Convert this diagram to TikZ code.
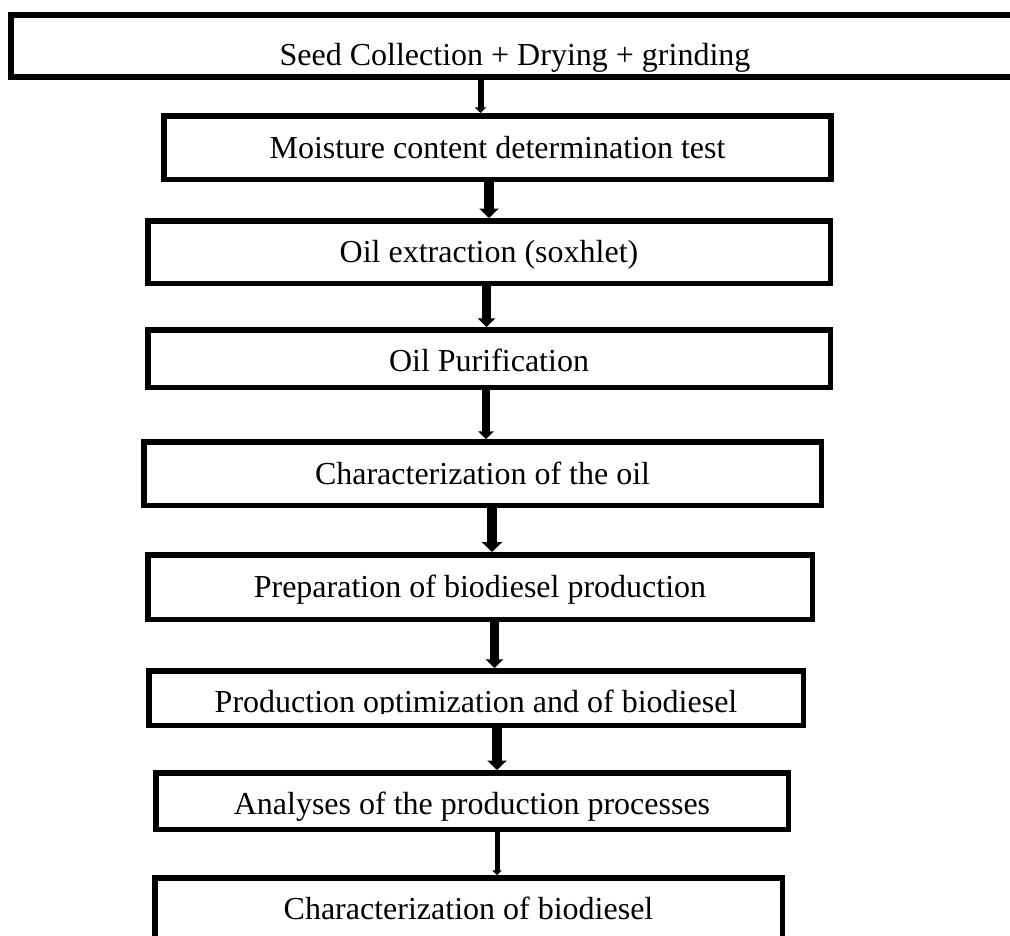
\documentclass[tikz,border=0pt]{standalone}
\usepackage{fontspec}
\setmainfont{Liberation Serif}
\usetikzlibrary{arrows.meta}

\begin{document}
\begin{tikzpicture}[x=1pt,y=-1pt,
    stage/.style={draw,line width=5.5pt,inner sep=0pt,text height=21pt,text depth=0pt,
      font=\fontsize{32}{38}\selectfont},
    flow/.style={-{Triangle[width=0pt 1.9,length=0pt 0.95]}}]
  \useasboundingbox (0,0) rectangle (1010,935);
  \node[stage,minimum width=1008pt,minimum height=62pt,text height=39pt] (b1) at (515,46) {Seed Collection + Drying + grinding};
  \node[stage,minimum width=667pt,minimum height=63.5pt] (b2) at (497.5,147.5) {Moisture content determination test};
  \node[stage,minimum width=682.5pt,minimum height=62.5pt] (b3) at (489,252) {Oil extraction (soxhlet)};
  \node[stage,minimum width=682.5pt,minimum height=57.5pt,text height=26pt] (b4) at (489,358.5) {Oil Purification};
  \node[stage,minimum width=677.5pt,minimum height=63.5pt] (b5) at (482.5,473.5) {Characterization of the oil};
  \node[stage,minimum width=664.5pt,minimum height=64.5pt] (b6) at (480,587) {Preparation of biodiesel production};
  \node[stage,minimum width=654.5pt,minimum height=54.5pt] (b7) at (476,698) {};
  % text of this box is cut off at the baseline
  \begin{scope}
    \clip (b7.north west) rectangle (b7.east |- 0,713);
    \node[font=\fontsize{32}{38}\selectfont,anchor=base,inner sep=0pt] (t7) at (476,712) {Production optimization and of biodiesel};
  \end{scope}
  \node[stage,minimum width=632.5pt,minimum height=56.5pt,text height=27pt] (b8) at (472,801) {Analyses of the production processes};
  \node[stage,minimum width=627.5pt,minimum height=62.5pt] (b9) at (468.5,909) {Characterization of biodiesel};
  \foreach \a/\b/\x/\w in {b1/b2/480.5/6,b2/b3/489/10,b3/b4/486.5/9,b4/b5/486/8,
      b5/b6/492/10.5,b6/b7/494.5/9,b7/b8/497/10,b8/b9/497/5}
    \draw[flow,line width=\w pt] (\a.south -| \x,0) -- (\b.north -| \x,0);
\end{tikzpicture}
\end{document}
